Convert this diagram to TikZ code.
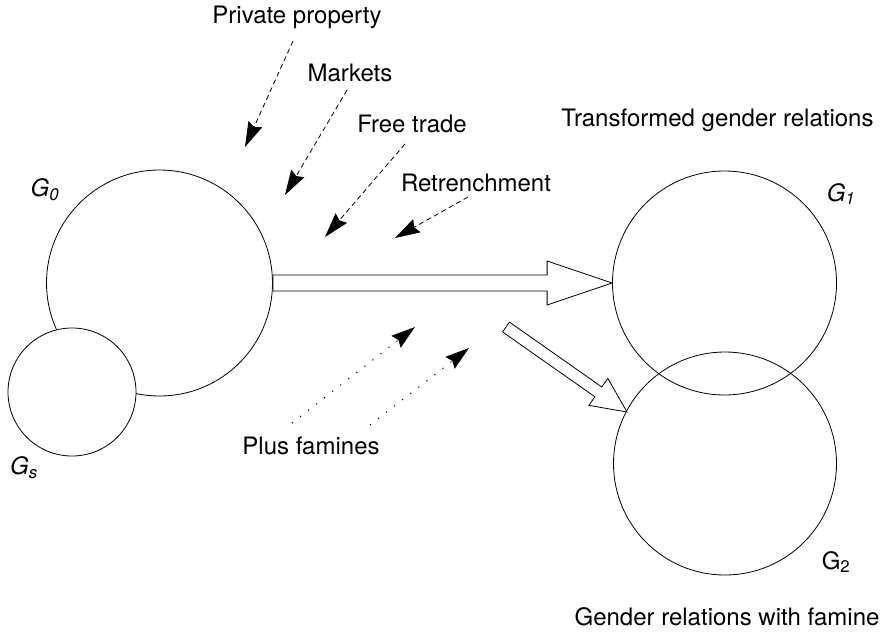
\documentclass[tikz,border=0pt]{standalone}
\usepackage{fontspec}
\setmainfont{TeX Gyre Heros}
\usetikzlibrary{arrows.meta,calc}
\begin{document}
\begin{tikzpicture}[x=1pt,y=-1pt,
  ring/.style={circle,draw,line width=0.8pt,inner sep=0pt},
  lbl/.style={inner sep=0pt,font=\fontsize{24}{28}\selectfont},
  glbl/.style={inner sep=0pt,font=\fontsize{24}{28}\selectfont\itshape},
  dasharrow/.style={dash pattern=on 5pt off 3.5pt,line width=0.8pt,-{Stealth[length=25pt,width=15pt,inset=3pt]}},
  dotarrow/.style={dash pattern=on 1.2pt off 9pt,line width=1pt,-{Stealth[length=24pt,width=15pt,inset=3pt]}},
  blockarrow/.style={draw,line width=0.8pt,fill=white,line join=miter}]
\useasboundingbox (0,0) rectangle (885,632);
\fill[white] (0,0) rectangle (885,632);
% circles
\node[ring,minimum size=226pt] (g0) at (159.5,283) {};
\node[ring,fill=white,minimum size=128pt] (gs) at (72,392) {};
\node[ring,minimum size=224pt] (g1) at (724.5,283) {};
\node[ring,minimum size=223pt] (g2) at (725,463.5) {};
% circle labels
\node[glbl] (l0) at (45,190) {G\textsubscript{0}};
\node[glbl] (ls) at (24,468) {G\textsubscript{s}};
\node[glbl] (l1) at (841,194) {G\textsubscript{1}};
\node[lbl] (l2) at (836,562) {G\textsubscript{2}};
% texts
\node[lbl] (pp) at (297,17) {Private property};
\node[lbl] (mk) at (350,73) {Markets};
\node[lbl] (ft) at (412,124) {Free trade};
\node[lbl] (rt) at (476,183) {Retrenchment};
\node[lbl] (pf) at (311,446) {Plus famines};
\node[lbl] (tg) at (717.5,120) {Transformed gender relations};
\node[lbl,anchor=base] (gf) at (727,625) {Gender relations with famine};
% dashed arrows
\coordinate (pp1) at (293,41); \coordinate (pp2) at (245,147);
\coordinate (mk1) at (347,90); \coordinate (mk2) at (285,195);
\coordinate (ft1) at (405,144); \coordinate (ft2) at (325,237);
\coordinate (rt1) at (468,197); \coordinate (rt2) at (395,238);
\draw[dasharrow] (pp1) -- (pp2);
\draw[dasharrow] (mk1) -- (mk2);
\draw[dasharrow] (ft1) -- (ft2);
\draw[dasharrow] (rt1) -- (rt2);
% dotted arrows
\coordinate (pf1) at (292,423); \coordinate (pf2) at (415,327);
\coordinate (pf3) at (370,425); \coordinate (pf4) at (469,348);
\draw[dotarrow] (pf1) -- (pf2);
\draw[dotarrow] (pf3) -- (pf4);
% horizontal block arrow
\coordinate (hA) at (g0.east);
\coordinate (hB) at (g1.west);
\coordinate (hH) at ($(hB)!65pt!(hA)$);
\draw[blockarrow] ($(hA)!8pt!90:(hB)$) -- ($(hH)!8pt!90:(hB)$) -- ($(hH)!22pt!90:(hB)$)
  -- (hB) -- ($(hH)!22pt!-90:(hB)$) -- ($(hH)!8pt!-90:(hB)$) -- ($(hA)!8pt!-90:(hB)$) -- cycle;
% diagonal block arrow
\coordinate (dA) at (506,327);
\coordinate (dB) at (627,412);
\coordinate (dH) at ($(dB)!35pt!(dA)$);
\draw[blockarrow] ($(dA)!6pt!90:(dB)$) -- ($(dH)!6pt!90:(dB)$) -- ($(dH)!16.5pt!90:(dB)$)
  -- (dB) -- ($(dH)!16.5pt!-90:(dB)$) -- ($(dH)!6pt!-90:(dB)$) -- ($(dA)!6pt!-90:(dB)$) -- cycle;
\end{tikzpicture}
\end{document}
